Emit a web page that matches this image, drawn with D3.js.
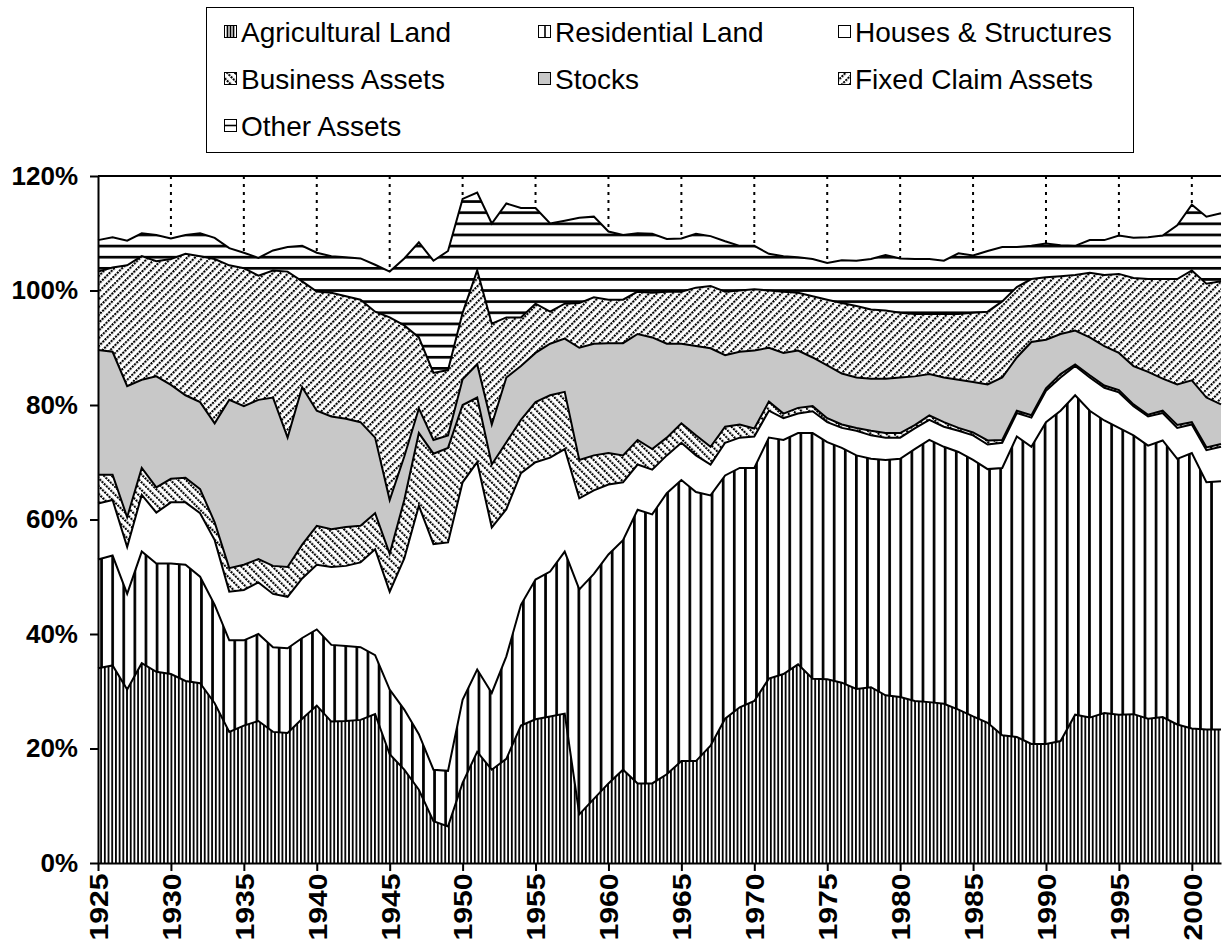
<!DOCTYPE html>
<html>
<head>
<meta charset="utf-8">
<script src="https://cdn.jsdelivr.net/npm/d3@7"></script>
<style>
  body { margin: 0; background: #fff; }
  svg { display: block; }
  text { font-family: "Liberation Sans", Arial, sans-serif; }
</style>
</head>
<body>
<div id="chart"></div>
<script>
// shares of total, in percent, 1925-2002
const years = d3.range(1925, 2003);

const agricultural = [34.0,34.5,30.3,34.9,33.4,33.0,31.8,31.4,27.9,22.9,
  24.0,24.8,22.9,22.7,25.2,27.5,24.7,24.8,25.0,26.0,
  19.0,16.3,12.8,7.3,6.4,14.0,19.4,16.3,18.2,24.0,
  25.1,25.6,26.1,8.5,11.2,13.9,16.3,13.9,13.9,15.5,
  17.8,17.8,20.5,25.2,27.2,28.3,32.2,33.0,34.7,32.2,
  32.1,31.5,30.4,30.7,29.3,29.0,28.3,28.1,27.8,26.8,
  25.6,24.5,22.3,22.0,20.8,20.8,21.3,25.9,25.4,26.2,
  25.9,26.0,25.2,25.5,24.2,23.5,23.3,23.3];

const residential = [19.0,19.2,16.7,19.5,18.9,19.3,20.3,18.6,17.2,16.0,
  14.9,15.2,14.8,14.8,14.1,13.3,13.4,13.1,12.7,10.3,
  11.3,10.5,9.7,9.0,9.7,14.5,14.4,13.4,17.9,21.1,
  24.4,25.3,28.3,39.3,39.3,40.0,40.1,47.8,47.0,49.1,
  49.1,47.0,43.7,42.5,41.8,40.7,42.1,40.9,40.4,42.9,
  41.4,41.0,40.8,39.9,41.1,41.6,44.0,45.8,44.9,45.0,
  44.8,44.3,46.7,52.5,51.9,56.2,57.7,55.8,53.6,51.1,
  50.1,48.7,47.7,48.3,46.4,48.1,43.2,43.4];

const houses = [9.8,9.7,8.2,9.9,8.9,10.7,10.9,11.1,11.3,8.5,
  8.8,9.0,9.3,9.0,10.4,11.3,13.6,14.0,14.8,18.5,
  17.1,26.4,39.9,39.4,39.9,38.0,36.2,28.9,25.7,23.0,
  20.5,19.9,17.9,15.9,14.6,12.2,10.1,7.9,7.8,6.6,
  6.5,6.4,5.4,5.7,5.3,5.5,4.7,3.8,3.4,3.8,
  3.5,3.5,4.3,4.1,3.9,3.7,3.6,3.5,3.5,3.7,
  4.3,4.3,4.4,4.1,5.1,5.5,5.8,5.1,5.8,5.7,
  6.2,5.1,5.1,4.8,5.4,5.0,5.6,6.0];

const business = [5.0,4.4,5.2,4.7,4.4,4.1,4.3,4.2,3.1,4.1,
  4.4,4.1,4.9,5.2,5.9,6.8,6.6,6.8,6.4,6.3,
  6.6,10.2,12.7,15.8,16.5,13.5,11.3,11.0,11.7,9.3,
  10.5,10.9,10.0,6.7,6.1,5.5,4.7,4.3,3.6,3.1,
  3.4,3.5,3.1,2.8,2.3,1.4,1.6,0.8,1.0,0.9,
  0.7,0.6,0.5,0.8,0.8,0.8,0.6,0.8,0.8,0.5,
  0.5,0.7,0.5,0.4,0.4,0.4,0.6,0.3,0.4,0.4,
  0.4,0.3,0.3,0.4,0.5,0.4,0.5,0.5];

const stocks = [21.8,21.5,22.9,15.4,19.4,16.4,14.4,15.2,17.3,29.4,
  27.7,27.8,29.4,22.6,27.5,20.1,19.7,18.9,18.1,13.2,
  9.4,7.6,4.3,2.4,2.2,4.5,5.8,7.0,11.3,9.4,
  8.6,9.0,9.3,19.6,19.5,19.2,19.6,18.5,19.5,16.4,
  13.9,15.6,17.2,12.5,12.7,13.6,9.4,10.6,10.0,8.5,
  9.2,8.9,8.8,9.1,9.5,9.7,8.5,7.2,7.8,8.4,
  8.8,9.8,10.9,9.3,12.8,8.5,7.0,5.9,6.6,6.9,
  6.5,6.7,7.5,5.6,7.1,7.3,8.7,6.9];

const fixedClaim = [13.7,14.7,21.1,21.6,20.1,22.0,24.7,25.5,28.7,23.5,
  24.1,21.7,22.2,29.0,18.5,20.8,21.6,21.4,21.4,22.0,
  31.9,22.9,12.4,11.7,11.4,11.6,16.4,17.6,10.5,8.5,
  8.6,5.6,6.1,7.8,8.1,7.6,7.6,7.4,7.8,9.1,
  9.1,10.2,10.9,11.1,10.7,10.7,10.0,10.7,10.1,10.7,
  11.5,12.3,12.5,12.1,11.9,11.3,10.9,10.5,11.1,11.5,
  12.1,12.7,13.3,12.3,11.0,10.9,10.1,9.7,11.3,12.4,
  13.8,15.4,16.2,17.4,18.4,19.2,19.9,21.5];

const other = [5.5,5.3,4.3,4.0,4.6,3.6,3.3,4.0,3.7,3.0,
  2.7,3.1,3.5,4.3,6.2,6.8,6.4,6.8,7.2,8.2,
  8.0,11.7,16.6,19.6,20.8,19.9,13.6,17.5,19.9,19.1,
  16.7,15.4,14.5,14.9,14.1,11.9,11.3,10.2,10.3,9.2,
  9.3,9.4,8.7,8.8,7.8,7.6,6.4,6.2,6.2,6.5,
  6.4,7.5,7.9,8.8,9.7,9.5,9.6,9.6,9.3,10.6,
  10.0,10.6,9.5,7.0,5.8,5.9,5.4,5.1,5.7,6.1,
  6.7,7.0,7.3,7.6,9.4,11.5,11.7,11.9];

const seriesNames = ["Agricultural Land", "Residential Land", "Houses & Structures",
  "Business Assets", "Stocks", "Fixed Claim Assets", "Other Assets"];
const seriesValues = [agricultural, residential, houses, business, stocks, fixedClaim, other];
const yTicks = [0, 20, 40, 60, 80, 100, 120];
const xTicks = d3.range(1925, 2001, 5);
const gridYears = d3.range(1930, 2001, 5);

// table for d3.stack
const table = years.map((yr, i) => {
  const row = { year: yr };
  seriesNames.forEach((name, k) => { row[name] = seriesValues[k][i]; });
  return row;
});

const width = 1222, height = 945;
const plot = { left: 98, right: 1221, top: 176, bottom: 863 };

const x = d3.scaleLinear().domain([1925, 2002]).range([plot.left, plot.right]);
const y = d3.scaleLinear().domain([0, 120]).range([plot.bottom, plot.top]);

const svg = d3.select("#chart").append("svg")
  .attr("width", width)
  .attr("height", height);

// fill patterns (white backing so the gridlines stay hidden)
const defs = svg.append("defs");

function stripes(id, opts) {
  const p = defs.append("pattern").attr("id", id)
    .attr("patternUnits", "userSpaceOnUse")
    .attr("x", opts.x || 0).attr("y", opts.y || 0)
    .attr("width", opts.w).attr("height", opts.h);
  p.append("rect").attr("width", opts.w).attr("height", opts.h).attr("fill", "#fff");
  p.append("rect").attr("width", opts.bw).attr("height", opts.bh).attr("fill", "#000");
}
stripes("p-agri", { x: 100.2, w: 3.7, h: 20, bw: 1.8, bh: 20 });
stripes("p-res", { x: 100.2, w: 11.1, h: 20, bw: 2.7, bh: 20 });
stripes("p-other", { y: 244.7, w: 20, h: 11.12, bw: 20, bh: 2.7 });

// diagonal "dotted" hatch: rotated columns of small squares
function dotHatch(id, angle) {
  const p = defs.append("pattern").attr("id", id)
    .attr("patternUnits", "userSpaceOnUse")
    .attr("width", 5.5).attr("height", 3.1)
    .attr("patternTransform", `rotate(${angle})`);
  p.append("rect").attr("width", 5.5).attr("height", 3.1).attr("fill", "#fff");
  p.append("rect").attr("width", 2.1).attr("height", 2.1).attr("fill", "#000");
}
dotHatch("p-biz", -45);
dotHatch("p-fixed", 45);

const fills = ["url(#p-agri)", "url(#p-res)", "#fff", "url(#p-biz)", "#c8c8c8", "url(#p-fixed)", "url(#p-other)"];

// dotted vertical gridlines (behind the areas)
svg.append("g")
  .selectAll("line")
  .data(gridYears)
  .enter().append("line")
  .attr("x1", d => x(d)).attr("x2", d => x(d))
  .attr("y1", plot.top).attr("y2", plot.bottom)
  .attr("stroke", "#000")
  .attr("stroke-width", 2)
  .attr("stroke-dasharray", "3,5");

const stack = d3.stack().keys(seriesNames);
const layers = stack(table);

const area = d3.area()
  .x(d => x(d.data.year))
  .y0(d => y(d[0]))
  .y1(d => y(d[1]));

const line = d3.line()
  .x(d => x(d.data.year))
  .y(d => y(d[1]));

svg.append("g").selectAll("path")
  .data(layers)
  .enter().append("path")
  .attr("d", area)
  .attr("fill", (d, i) => fills[i])
  .attr("stroke", "none");

svg.append("g").selectAll("path")
  .data(layers)
  .enter().append("path")
  .attr("d", line)
  .attr("fill", "none")
  .attr("stroke", "#000")
  .attr("stroke-width", 2)
  .attr("stroke-linejoin", "miter");

// top frame line
svg.append("line")
  .attr("x1", plot.left).attr("x2", plot.right)
  .attr("y1", plot.top).attr("y2", plot.top)
  .attr("stroke", "#000").attr("stroke-width", 2);

// axes
const yAxis = svg.append("g")
  .attr("transform", `translate(${plot.left},0)`)
  .call(d3.axisLeft(y).tickValues(yTicks).tickFormat(d => d + "%").tickSize(8).tickSizeOuter(0).tickPadding(12));

const xAxis = svg.append("g")
  .attr("transform", `translate(0,${plot.bottom})`)
  .call(d3.axisBottom(x).tickValues(xTicks).tickFormat(d3.format("d")).tickSize(8).tickSizeOuter(0));

xAxis.selectAll("text")
  .attr("transform", "rotate(-90) scale(1.16,1)")
  .attr("text-anchor", "end")
  .attr("x", -9)
  .attr("y", 0)
  .attr("dy", "0.36em");

[xAxis, yAxis].forEach(g => {
  g.selectAll("text")
    .style("font-family", '"Liberation Sans", Arial, sans-serif')
    .style("font-size", "26px")
    .style("font-weight", "bold")
    .attr("fill", "#000");
  g.selectAll("line").attr("stroke", "#000").attr("stroke-width", 2);
  g.select(".domain").attr("stroke", "#000").attr("stroke-width", 2);
});

// legend
const legend = svg.append("g");
legend.append("rect")
  .attr("x", 206.5).attr("y", 7.5)
  .attr("width", 927).attr("height", 145)
  .attr("fill", "#fff")
  .attr("stroke", "#000")
  .attr("stroke-width", 1);

const colX = [224, 538, 838];
const rowY = [32, 79, 126];
const legendFills = ["#fff", "#fff", "#fff", "url(#p-biz)", "#c8c8c8", "url(#p-fixed)", "#fff"];

const items = legend.selectAll(".item")
  .data(seriesNames)
  .enter().append("g")
  .attr("class", "item")
  .attr("transform", (d, i) => `translate(${colX[i % 3]},${rowY[Math.floor(i / 3)]})`);

items.append("rect")
  .attr("x", 0.5).attr("y", -6.5)
  .attr("width", 12).attr("height", 12)
  .attr("fill", (d, i) => legendFills[i])
  .attr("stroke", "#000")
  .attr("stroke-width", 1);

// small stripe glyphs for the line-pattern swatches
const swatchLines = [
  [[3, 3], [6, 6], [9, 9]],       // agricultural: vertical, dense
  [[6.5, 6.5]],                   // residential: one vertical
  [], [], [], [],
  [[0, 0]]                        // other: one horizontal
];
items.each(function (d, i) {
  const g = d3.select(this);
  swatchLines[i].forEach(p => {
    if (i === 6) {
      g.append("line").attr("x1", 0.5).attr("x2", 12.5).attr("y1", -0.5).attr("y2", -0.5)
        .attr("stroke", "#000").attr("stroke-width", 1.6);
    } else {
      g.append("line").attr("x1", p[0] + 0.5).attr("x2", p[1] + 0.5).attr("y1", -6.5).attr("y2", 5.5)
        .attr("stroke", "#000").attr("stroke-width", i === 0 ? 1.7 : 1.6);
    }
  });
});

items.append("text")
  .attr("x", 17)
  .attr("dy", "0.36em")
  .style("font-size", "28px")
  .text(d => d);
</script>
</body>
</html>
